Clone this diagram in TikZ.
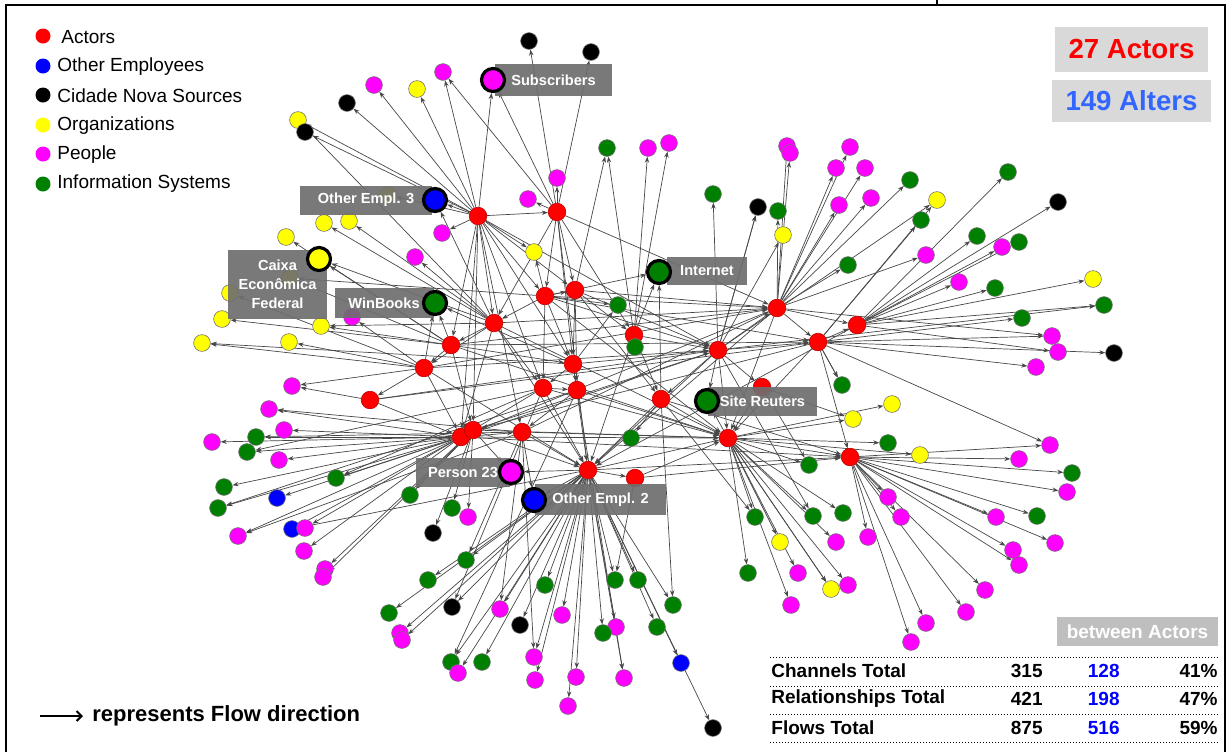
\documentclass[tikz,border=0pt]{standalone}
\usepackage{fontspec}
\setmainfont{Liberation Sans}
\usetikzlibrary{arrows.meta,backgrounds}
\definecolor{rd}{RGB}{255,0,0}
\definecolor{bl}{RGB}{0,0,255}
\definecolor{bk}{RGB}{0,0,0}
\definecolor{yl}{RGB}{255,255,0}
\definecolor{mg}{RGB}{255,0,255}
\definecolor{gn}{RGB}{0,128,0}
\definecolor{tagfill}{RGB}{110,110,110}
\definecolor{cntfill}{RGB}{217,217,217}
\definecolor{altblue}{RGB}{51,102,255}
\newcommand{\dotsize}{8.4pt}

\begin{document}
\begin{tikzpicture}[x=0.5pt, y=-0.5pt,
    actor/.style={circle, fill=rd, draw=rd!75!black, line width=0.3pt, minimum size=8.8pt, inner sep=0pt},
    alter/.style={circle, draw=black!55, line width=0.3pt, minimum size=\dotsize, inner sep=0pt},
    keyalter/.style={circle, draw=black, line width=1.6pt, minimum size=11.5pt, inner sep=0pt},
    tag/.style={fill=tagfill, fill opacity=0.92, text opacity=1, text=white, font=\fontsize{7.3}{9.5}\selectfont\bfseries, inner sep=0pt, align=center},
    flow/.style={draw=black!72, line width=0.35pt, -{Stealth[length=3pt,width=2.2pt]}},
    legdot/.style={circle, minimum size=7.5pt, inner sep=0pt},
    legtext/.style={anchor=west, font=\fontsize{9.5}{11}\selectfont, inner sep=0pt},
    tabtext/.style={font=\fontsize{9.5}{11}\selectfont\bfseries, inner sep=0pt}]
    \useasboundingbox (0,0) rectangle (1229,752);

    % Frame
    \draw[line width=1.3pt] (6,752) -- (6,5) -- (1225,5) -- (1225,752);
    \draw[line width=1.3pt] (937,0) -- (937,5);

    % Legend
    \node[legdot, fill=rd] (leg-1) at (43,36) {};
    \node[legdot, fill=bl] (leg-2) at (43,66) {};
    \node[legdot, fill=bk] (leg-3) at (43,95) {};
    \node[legdot, fill=yl] (leg-4) at (43,125) {};
    \node[legdot, fill=mg] (leg-5) at (43,154) {};
    \node[legdot, fill=gn] (leg-6) at (43,184) {};
    \node[legtext] at (61,37) {Actors};
    \node[legtext] at (57,67) {Other Employees};
    \node[legtext] at (57,96) {Cidade Nova Sources};
    \node[legtext] at (57,126) {Organizations};
    \node[legtext] at (57,155) {People};
    \node[legtext] at (57,184) {Information Systems};

    % Counters
    \node[fill=cntfill, minimum width=76.5pt, minimum height=22.5pt, text=rd, font=\fontsize{13.8}{15}\selectfont\bfseries] (cnt-act) at (1131.5,49) {27 Actors};
    \node[fill=cntfill, minimum width=79.5pt, minimum height=21pt, text=altblue, font=\fontsize{13.8}{15}\selectfont\bfseries] (cnt-alt) at (1131.5,101) {149 Alters};

    % Actors
    \node[actor] (act-1) at (478,216) {};
    \node[actor] (act-2) at (557,212) {};
    \node[actor] (act-3) at (545,296) {};
    \node[actor] (act-4) at (575,290) {};
    \node[actor] (act-5) at (494,323) {};
    \node[actor] (act-6) at (451,345) {};
    \node[actor] (act-7) at (424,368) {};
    \node[actor] (act-8) at (573,364) {};
    \node[actor] (act-9) at (543,388) {};
    \node[actor] (act-10) at (577,390) {};
    \node[actor] (act-11) at (634,335) {};
    \node[actor] (act-12) at (718,350) {};
    \node[actor] (act-13) at (777,308) {};
    \node[actor] (act-14) at (818,342) {};
    \node[actor] (act-15) at (857,325) {};
    \node[actor] (act-16) at (661,399) {};
    \node[actor] (act-17) at (762,387) {};
    \node[actor] (act-18) at (370,400) {};
    \node[actor] (act-19) at (461,437) {};
    \node[actor] (act-20) at (473,430) {};
    \node[actor] (act-21) at (522,432) {};
    \node[actor] (act-22) at (588,470) {};
    \node[actor] (act-23) at (635,478) {};
    \node[actor] (act-24) at (728,438) {};
    \node[actor] (act-25) at (850,457) {};

    % Flows between actors
    \begin{scope}[on background layer]
    \foreach \a/\b in {1/2,1/3,1/4,1/5,1/6,1/8,1/9,1/19,1/20,1/21,2/3,2/4,2/5,2/8,2/11,2/22,
        3/4,3/5,3/8,3/9,3/12,3/13,3/14,3/24,4/8,4/10,4/11,4/12,4/13,4/16,
        5/6,5/7,5/9,5/13,5/19,5/22,5/24,6/7,6/8,6/14,6/20,6/24,7/13,7/18,7/19,7/22,
        8/9,8/10,8/12,8/22,9/10,9/19,9/22,9/24,10/21,10/24,11/12,11/16,11/22,
        12/13,12/14,12/16,12/17,12/19,12/22,12/24,13/14,13/15,13/19,13/22,13/24,
        14/15,14/20,14/24,14/25,15/22,16/22,16/24,16/25,17/24,18/12,18/19,
        19/20,19/21,19/24,20/22,20/24,21/22,21/24,22/23,22/24,22/25,23/24,23/25,24/25,
        18/14,7/12,6/13,20/12,21/13,19/25,2/13,1/12}
        \draw[flow] (act-\a) -- (act-\b);
    \end{scope}

    % Alters, top left
    \foreach \px/\py/\c/\a [count=\i] in {374/85/mg/1, 417/89/yl/1, 443/72/mg/1, 347/103/bk/1,
        298/120/yl/1, 305/132/bk/1, 388/195/yl/1, 324/223/yl/5, 349/221/yl/5, 286/237/yl/6,
        442/233/mg/1, 415/257/mg/5, 290/278/yl/6, 230/293/yl/7, 222/319/yl/6, 321/326/yl/6,
        352/317/mg/7, 202/343/yl/7, 289/342/yl/7}{
        \node[alter, fill=\c] (alt-nw-\i) at (\px,\py) {};
        \begin{scope}[on background layer]
            \draw[flow] (act-\a) -- (alt-nw-\i);
        \end{scope}
    }

    % Alters, top centre
    \foreach \px/\py/\c/\a [count=\i] in {529/41/bk/2, 591/52/bk/2, 557/178/mg/2, 528/199/mg/2,
        534/252/yl/3, 607/148/gn/11, 648/148/mg/11, 669/143/mg/11, 618/305/gn/3, 635/347/gn/11,
        631/438/gn/16, 713/194/gn/12, 758/207/bk/12, 778/211/gn/13, 783/235/yl/12,
        787/146/mg/13, 790/153/mg/13}{
        \node[alter, fill=\c] (alt-n-\i) at (\px,\py) {};
        \begin{scope}[on background layer]
            \draw[flow] (act-\a) -- (alt-n-\i);
        \end{scope}
    }

    % Alters, top right
    \foreach \px/\py/\c/\a [count=\i] in {850/147/mg/13, 836/168/mg/13, 865/168/mg/13, 839/205/mg/13,
        871/198/mg/13, 910/180/gn/13, 937/200/yl/14, 921/220/gn/14, 1008/172/gn/15, 1058/202/bk/15,
        977/236/gn/15, 1002/247/mg/15, 1019/242/gn/15, 926/255/mg/13, 848/265/gn/13, 959/282/mg/15,
        995/288/gn/15, 1093/279/yl/15, 1104/305/gn/15, 1022/318/gn/14, 1052/336/mg/14,
        1058/352/mg/15, 1114/353/bk/14, 1036/367/mg/14, 842/385/gn/14}{
        \node[alter, fill=\c] (alt-ne-\i) at (\px,\py) {};
        \begin{scope}[on background layer]
            \draw[flow] (act-\a) -- (alt-ne-\i);
        \end{scope}
    }

    % Alters, bottom right
    \foreach \px/\py/\c/\a [count=\i] in {892/404/yl/24, 853/419/yl/24, 888/443/gn/24, 920/455/yl/24,
        1050/445/mg/25, 1019/459/mg/25, 1072/473/gn/25, 1067/492/mg/25, 809/465/gn/24, 888/497/mg/25,
        901/517/mg/25, 843/513/gn/24, 813/516/gn/24, 996/517/mg/25, 1037/516/gn/25, 1055/543/mg/25,
        836/542/mg/24, 868/537/mg/25, 1013/550/mg/25, 1019/565/mg/25, 831/589/yl/24, 848/585/mg/24,
        985/590/mg/25, 966/612/mg/25, 926/623/mg/25, 911/642/mg/25, 755/517/gn/24, 780/542/yl/24,
        748/573/gn/24, 798/573/mg/24, 791/605/mg/24}{
        \node[alter, fill=\c] (alt-se-\i) at (\px,\py) {};
        \begin{scope}[on background layer]
            \draw[flow] (act-\a) -- (alt-se-\i);
        \end{scope}
    }

    % Alters, bottom left
    \foreach \px/\py/\c/\a [count=\i] in {292/386/mg/18, 269/409/mg/19, 284/430/mg/19, 256/437/gn/19,
        212/442/mg/19, 247/452/gn/19, 279/460/mg/19, 336/478/gn/19, 224/487/gn/19, 277/498/bl/19,
        218/508/gn/19, 410/495/gn/20, 452/508/gn/20, 468/517/mg/20, 433/533/bk/20, 292/529/bl/19,
        305/528/mg/19, 238/536/mg/19, 304/551/mg/19, 325/569/mg/20, 323/577/mg/20}{
        \node[alter, fill=\c] (alt-sw-\i) at (\px,\py) {};
        \begin{scope}[on background layer]
            \draw[flow] (act-\a) -- (alt-sw-\i);
        \end{scope}
    }

    % Alters, bottom
    \foreach \px/\py/\c/\a [count=\i] in {466/560/gn/22, 428/580/gn/22, 452/607/bk/22, 389/613/gn/22,
        500/609/mg/22, 400/633/mg/22, 402/640/mg/22, 451/662/gn/22, 482/662/gn/22, 458/673/mg/22,
        520/625/bk/22, 545/585/gn/22, 615/580/gn/22, 638/580/gn/22, 673/605/gn/22, 562/615/mg/22,
        616/627/mg/22, 603/633/gn/22, 657/627/gn/22, 534/657/mg/22, 535/680/mg/22, 576/677/mg/22,
        624/678/mg/22, 681/663/bl/22, 568/706/mg/22, 713/728/bk/22}{
        \node[alter, fill=\c] (alt-s-\i) at (\px,\py) {};
        \begin{scope}[on background layer]
            \draw[flow] (act-\a) -- (alt-s-\i);
        \end{scope}
    }

    % Second flows into alters
    \begin{scope}[on background layer]
    \foreach \a/\t in {21/alt-sw-2,21/alt-sw-4,9/alt-sw-8,10/alt-sw-11,20/alt-sw-12,9/alt-sw-6,22/alt-sw-16,
        21/alt-sw-18,7/alt-sw-1,21/alt-s-1,9/alt-s-3,21/alt-s-5,10/alt-s-8,23/alt-s-13,16/alt-s-15,
        21/alt-s-20,10/alt-s-23,17/alt-se-9,12/alt-se-13,16/alt-se-27,14/alt-se-5,24/alt-se-21,
        17/alt-se-2,13/alt-ne-21,12/alt-ne-19,14/alt-ne-25,12/alt-ne-7,5/alt-nw-16,3/alt-nw-13,
        8/alt-nw-18,2/alt-nw-3,5/alt-nw-5,4/alt-n-6,12/alt-n-13,8/alt-n-9,1/alt-n-5}
        \draw[flow] (act-\a) -- (\t);
    \end{scope}

    % Tagged alters
    \node[tag, minimum width=58.5pt, minimum height=16pt] (tag-subs) at (553.5,80) {Subscribers};
    \node[tag, minimum width=66pt, minimum height=14.5pt] (tag-emp3) at (366,200) {Other Empl. 3};
    \node[tag, minimum width=49.5pt, minimum height=34.5pt] (tag-caixa) at (277.5,284) {Caixa\\Econômica\\Federal};
    \node[tag, minimum width=49.5pt, minimum height=15pt] (tag-winb) at (384,303) {WinBooks};
    \node[tag, minimum width=40pt, minimum height=14pt] (tag-inet) at (707,271) {Internet};
    \node[tag, minimum width=54.5pt, minimum height=14.5pt] (tag-reut) at (762.5,401.5) {Site Reuters};
    \node[tag, minimum width=47pt, minimum height=14.5pt] (tag-p23) at (463,472.5) {Person 23};
    \node[tag, minimum width=65.5pt, minimum height=15.5pt] (tag-emp2) at (600.5,499.5) {Other Empl. 2};

    \node[keyalter, fill=mg] (subs) at (493,80) {};
    \node[keyalter, fill=bl] (emp3) at (435,200) {};
    \node[keyalter, fill=yl] (caixa) at (319,259) {};
    \node[keyalter, fill=gn] (winb) at (435,303) {};
    \node[keyalter, fill=gn] (inet) at (659,272) {};
    \node[keyalter, fill=gn] (reut) at (707,401) {};
    \node[keyalter, fill=mg] (p23) at (511,472) {};
    \node[keyalter, fill=bl] (emp2) at (534,500) {};

    \begin{scope}[on background layer]
    \foreach \a/\t in {1/subs,2/subs,1/emp3,5/emp3,5/caixa,6/caixa,6/winb,7/winb,8/winb,
        3/inet,11/inet,16/inet,24/reut,12/reut,20/p23,22/p23,22/emp2,21/emp2}
        \draw[flow] (act-\a) -- (\t);
    \end{scope}

    % Table
    \node[fill=black!25, text=white, minimum width=80.5pt, minimum height=14.5pt, inner sep=0pt, font=\fontsize{9.5}{11}\selectfont\bfseries] (tab-head) at (1137.5,631.5) {between Actors};
    \foreach \ly in {657,686,714,742}
        \draw[densely dotted, line width=0.5pt] (770,\ly) -- (1218,\ly);
    \node[tabtext, anchor=west] (tab-1) at (771,671) {Channels Total};
    \node[tabtext, anchor=west] (tab-2) at (771,699) {Relationships Total};
    \node[tabtext, anchor=west] (tab-3) at (771,728) {Flows Total};
    \node[tabtext, anchor=east] at (1043,671) {315};
    \node[tabtext, anchor=east] at (1043,699) {421};
    \node[tabtext, anchor=east] at (1043,728) {875};
    \node[tabtext, anchor=east, text=bl] at (1120,671) {128};
    \node[tabtext, anchor=east, text=bl] at (1120,699) {198};
    \node[tabtext, anchor=east, text=bl] at (1120,728) {516};
    \node[tabtext, anchor=east] at (1218,671) {41\%};
    \node[tabtext, anchor=east] at (1218,699) {47\%};
    \node[tabtext, anchor=east] at (1218,728) {59\%};

    % Flow key
    \coordinate (key-a) at (40,716);
    \coordinate (key-b) at (83,716);
    \draw[line width=1pt, -{Straight Barb[length=2.5pt,width=5pt]}] (key-a) -- (key-b);
    \node[anchor=west, inner sep=0pt, font=\fontsize{11}{13}\selectfont\bfseries] (key-text) at (92,716) {represents Flow direction};
\end{tikzpicture}
\end{document}
